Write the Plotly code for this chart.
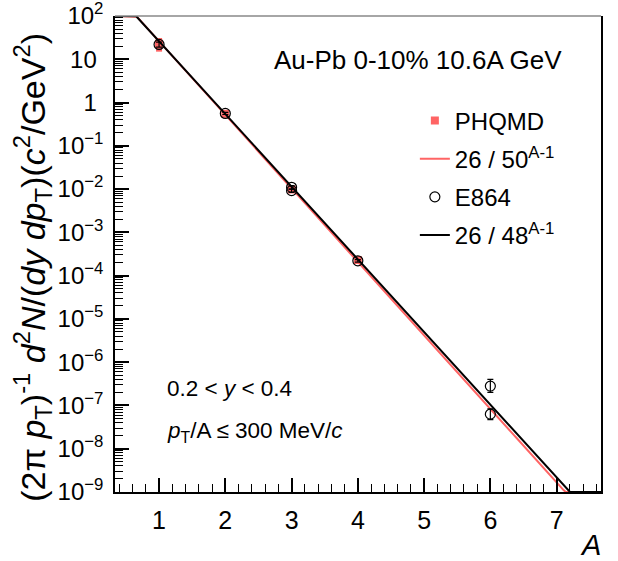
import numpy as np
import plotly.graph_objects as go

# Mass number A and invariant yields
phqmd_A = [1, 2, 3, 4]
phqmd_y = [23.0, 0.55, 0.0098, 2.3e-4]
phqmd_err = [8.0, 0.04, 0.0007, 1.5e-5]

e864_A = [1, 2, 3, 3, 4, 6, 6]
e864_y = [22.0, 0.56, 0.011, 0.0092, 2.2e-4, 2.8e-7, 6.3e-8]
e864_err_hi = [3.0, 0.03, 0.001, 0.0008, 1.5e-5, 1.2e-7, 2.0e-8]
e864_err_lo = [3.0, 0.03, 0.001, 0.0008, 1.5e-5, 0.8e-7, 1.6e-8]

# Exponential penalty factor fits: C / B^(A-1)
fit_red = (26.0, 50.0)
fit_black = (26.0, 48.0)

x_range = [0.335, 7.67]
y_min, y_max = 1e-9, 1e2
y_decades = list(range(-9, 3))
x_ticks = [1, 2, 3, 4, 5, 6, 7]


def dec_label(d):
    # plain labels carry a trailing pad, like the exponent-free ROOT labels
    if d == 0:
        return "1\u00a0"
    if d == 1:
        return "10\u00a0"
    sign = "\u2212" if d < 0 else ""
    return f"10<sup>{sign}{abs(d)}</sup>"


a_grid = np.linspace(x_range[0], x_range[1], 800)


def fit_curve(c, b):
    # values outside the frame are held at the frame edge
    return np.clip(c / b ** (a_grid - 1.0), y_min, y_max)


FONT = "Liberation Sans, Arial, sans-serif"
RED = "#ff6464"

fig = go.Figure()

fig.add_trace(go.Scatter(
    x=a_grid, y=fit_curve(*fit_red), mode="lines",
    line=dict(color=RED, width=2),
    name=f"{fit_red[0]:g} / {fit_red[1]:g}<sup>A-1</sup>",
    legendrank=2, legendgroup="b",
))
fig.add_trace(go.Scatter(
    x=phqmd_A, y=phqmd_y, mode="markers",
    marker=dict(symbol="square", size=8, color=RED),
    error_y=dict(type="data", array=phqmd_err, color=RED, thickness=6, width=0),
    name="PHQMD", legendrank=1, legendgroup="a",
))
fig.add_trace(go.Scatter(
    x=a_grid, y=fit_curve(*fit_black), mode="lines",
    line=dict(color="black", width=2),
    name=f"{fit_black[0]:g} / {fit_black[1]:g}<sup>A-1</sup>",
    legendrank=4, legendgroup="d",
))
fig.add_trace(go.Scatter(
    x=e864_A, y=e864_y, mode="markers",
    marker=dict(symbol="circle-open", size=10, color="black", line=dict(width=1.2)),
    error_y=dict(type="data", array=e864_err_hi, arrayminus=e864_err_lo,
                 color="black", thickness=1.2, width=3),
    name="E864", legendrank=3, legendgroup="c",
))

minor_y = [k * 10.0 ** d for d in y_decades[:-1] for k in range(2, 10)]

fig.update_layout(
    width=618, height=561,
    margin=dict(l=115, r=17, t=16, b=69, autoexpand=False),
    paper_bgcolor="white", plot_bgcolor="white",
    font=dict(family=FONT, color="black", size=21),
    showlegend=True,
    legend=dict(
        x=0.617, y=0.827, xanchor="left", yanchor="top",
        bgcolor="rgba(0,0,0,0)", font=dict(size=24, family=FONT),
        traceorder="grouped", tracegroupgap=4, itemwidth=30,
    ),
    xaxis=dict(
        range=x_range, tickvals=x_ticks, ticktext=[str(t) for t in x_ticks],
        ticks="inside", ticklen=14, tickwidth=1.5, tickcolor="black",
        showline=True, linewidth=1.5, linecolor="black", mirror=False,
        showgrid=False, zeroline=False, tickfont=dict(size=25),
        ticklabelstandoff=5, automargin=False,
        minor=dict(dtick=0.2, ticks="inside", ticklen=8, tickwidth=1, tickcolor="black", showgrid=False),
    ),
    yaxis=dict(
        type="log", range=[np.log10(y_min), np.log10(y_max)],
        tickvals=[10.0 ** d for d in y_decades], ticktext=[dec_label(d) for d in y_decades],
        ticks="inside", ticklen=14, tickwidth=1.5, tickcolor="black",
        showline=True, linewidth=1.5, linecolor="black", mirror=True,
        showgrid=False, zeroline=False, tickfont=dict(size=24),
        ticklabelstandoff=5, ticklabeloverflow="allow", automargin=False,
        minor=dict(tickvals=minor_y, ticks="inside", ticklen=8, tickwidth=1, tickcolor="black", showgrid=False),
    ),
    shapes=[dict(type="line", xref="paper", yref="paper", x0=0, x1=1, y0=1, y1=1,
                 line=dict(color="#888888", width=1.5))],
    annotations=[
        dict(text="(2\u03c0 <i>p</i><sub>T</sub>)<sup>-1</sup> <i>d</i><sup>2</sup><i>N</i>/(<i>dy</i> <i>dp</i><sub>T</sub>)(<i>c</i><sup>2</sup>/GeV<sup>2</sup>)",
             xref="paper", yref="paper", x=0, y=0.49, xshift=-83, yshift=-9,
             xanchor="center", yanchor="middle",
             textangle=-90, showarrow=False, font=dict(size=34)),
        dict(text="<i>A</i>", xref="paper", yref="paper", x=1, y=0, xanchor="right", yanchor="middle",
             yshift=-53, xshift=2, showarrow=False, font=dict(size=29)),
        dict(text="Au-Pb 0-10% 10.6A GeV", xref="paper", yref="paper", x=0.323, y=0.908,
             xanchor="left", yanchor="middle", showarrow=False, font=dict(size=26)),
        dict(text="0.2 < <i>y</i> < 0.4", xref="paper", yref="paper", x=0.103, y=0.218,
             xanchor="left", yanchor="middle", showarrow=False, font=dict(size=22.5)),
        dict(text="<i>p</i><sub>T</sub>/A \u2264 300 MeV/<i>c</i>", xref="paper", yref="paper", x=0.103, y=0.126,
             xanchor="left", yanchor="middle", showarrow=False, font=dict(size=22.5)),
    ],
)

fig.write_html("out.html")
